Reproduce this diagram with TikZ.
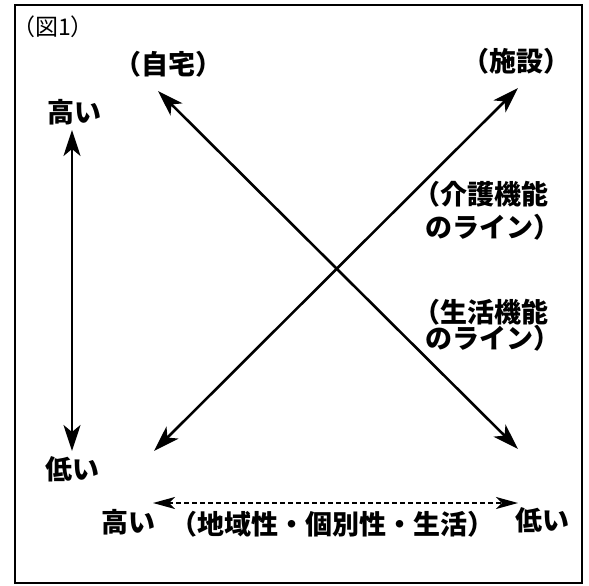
\documentclass[tikz,border=0pt]{standalone}
\usepackage{fontspec}
\newfontfamily\jp{Noto Sans CJK JP}
\usetikzlibrary{arrows.meta}
\begin{document}
\begin{tikzpicture}[x=1pt,y=-1pt,
  lbl/.style={inner sep=0pt,font=\jp\bfseries\fontsize{27}{29}\selectfont},
  arr/.style={line width=2.6pt,{Stealth[length=26pt,width=17pt,inset=7pt]}-{Stealth[length=26pt,width=17pt,inset=7pt]}},
  darr/.style={line width=1.8pt,dash pattern=on 5pt off 3pt,{Stealth[length=22pt,width=12pt,inset=6pt]}-{Stealth[length=22pt,width=12pt,inset=6pt]}}]
\useasboundingbox (0,0) rectangle (589,586);
\fill[white] (0,0) rectangle (589,586);
\draw[line width=1.5pt] (15,5) rectangle (582,583);
% labels
\node[inner sep=0pt,font=\jp\fontsize{23}{25}\selectfont] (fig) at (53,27) {（図1）};
\node[lbl] (home) at (168,64) {（自宅）};
\node[lbl] (inst) at (516,61) {（施設）};
\node[lbl] (hiL) at (74,112) {高い};
\node[lbl] (loL) at (72,469) {低い};
\node[lbl,anchor=west] (kaigo1) at (413,194) {（介護機能};
\node[lbl,anchor=west] (kaigo2) at (425,227) {のライン）};
\node[lbl,anchor=west] (seik1) at (413,312) {（生活機能};
\node[lbl,anchor=west] (seik2) at (425,338) {のライン）};
\node[lbl] (hiB) at (128,522) {高い};
\node[lbl] (mid) at (332,524) {（地域性・個別性・生活）};
\node[lbl] (loB) at (542,520) {低い};
% arrow end points
\coordinate (vt) at (72,130);
\coordinate (vb) at (72,451);
\coordinate (ha) at (158,91);
\coordinate (hb) at (518,449);
\coordinate (ia) at (518,88);
\coordinate (ib) at (154,451);
\coordinate (dl) at (153,503);
\coordinate (dr) at (518,503);
\draw[arr] (vt) -- (vb);
\draw[arr] (ha) -- (hb);
\draw[arr] (ia) -- (ib);
\draw[darr] (dl) -- (dr);
\end{tikzpicture}
\end{document}
